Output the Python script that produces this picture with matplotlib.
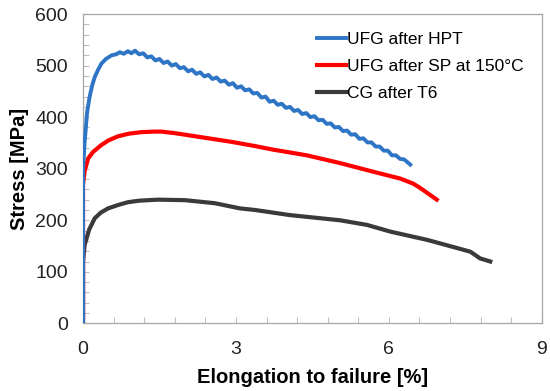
import matplotlib.pyplot as plt
import numpy as np
from matplotlib.ticker import MultipleLocator

plt.rcParams['font.family'] = ['Liberation Sans', 'DejaVu Sans']

# UFG after HPT (serrated curve)
hpt_x = [0.0, 0.0, 0.03, 0.08, 0.13, 0.18, 0.23, 0.3, 0.36, 0.45, 0.56, 0.65, 0.72, 0.8, 0.88, 0.95,
         1.02, 1.1, 1.18, 1.26, 1.34, 1.42, 1.5, 1.58, 1.66, 1.74, 1.82, 1.9, 1.98, 2.06, 2.14,
         2.22, 2.3, 2.38, 2.46, 2.54, 2.62, 2.7, 2.78, 2.86, 2.94, 3.02, 3.1, 3.18, 3.26, 3.34,
         3.42, 3.5, 3.58, 3.66, 3.74, 3.82, 3.9, 3.98, 4.06, 4.14, 4.22, 4.3, 4.38, 4.46, 4.54,
         4.62, 4.7, 4.78, 4.86, 4.94, 5.02, 5.1, 5.18, 5.26, 5.34, 5.42, 5.5, 5.58, 5.66, 5.74,
         5.82, 5.9, 5.98, 6.06, 6.14, 6.22, 6.3, 6.36, 6.42]
hpt_y = [0, 300, 350, 410, 440, 462, 478, 493, 504, 513, 520, 522, 526, 523, 528, 524,
         529, 522, 524, 516, 518, 510, 513, 505, 508, 500, 503, 495, 497, 489, 492,
         484, 487, 479, 482, 474, 477, 469, 471, 463, 466, 457, 460, 452, 454, 446,
         447, 438, 440, 430, 432, 424, 426, 418, 420, 412, 414, 406, 408, 400, 402,
         394, 395, 387, 388, 380, 381, 373, 374, 366, 367, 358, 359, 351, 351, 343,
         343, 335, 335, 326, 326, 319, 318, 313, 308]

# UFG after SP at 150 C
sp_x = [0.0, 0.0, 0.03, 0.1, 0.2, 0.36, 0.5, 0.69, 0.9, 1.15, 1.4, 1.54, 1.8, 2.0, 2.46,
        2.92, 3.37, 3.73, 4.39, 5.04, 5.7, 6.22, 6.48, 6.61, 6.94]
sp_y = [0, 270, 295, 320, 333, 346, 355, 363, 368, 371, 372, 372, 369, 366, 359,
        352, 344, 337, 326, 311, 294, 281, 271, 263, 240]

# CG after T6
t6_x = [0.0, 0.0, 0.03, 0.07, 0.12, 0.23, 0.35, 0.49, 0.7, 0.88, 1.1, 1.47, 2.0, 2.59,
        3.08, 3.37, 4.06, 5.04, 5.57, 6.03, 6.75, 7.6, 7.79, 7.99]
t6_y = [0, 120, 152, 165, 182, 204, 215, 223, 230, 235, 238, 240, 239, 233,
        223, 220, 210, 200, 191, 178, 162, 139, 126, 120]

labels = ['UFG after HPT', 'UFG after SP at 150°C', 'CG after T6']
colors = ['#2E75C6', '#FF0000', '#3A3A3A']

fig = plt.figure(figsize=(5.5, 3.91), dpi=100)
ax = fig.add_axes([0.151, 0.173, 0.834, 0.791])

ax.plot(t6_x, t6_y, color=colors[2], lw=3.0, label=labels[2], zorder=2)
ax.plot(sp_x, sp_y, color=colors[1], lw=3.0, label=labels[1], zorder=3)
ax.plot(hpt_x, hpt_y, color=colors[0], lw=2.8, label=labels[0], zorder=4)

ax.set_xlim(0, 9)
ax.set_ylim(0, 600)
ax.xaxis.set_major_locator(MultipleLocator(3))
ax.xaxis.set_minor_locator(MultipleLocator(0.6))
ax.yaxis.set_major_locator(MultipleLocator(100))
ax.yaxis.set_minor_locator(MultipleLocator(20))
ax.tick_params(which='both', direction='in', color='#BFBFBF', length=4, width=0.8,
               labelsize=14, labelcolor='#222222')
ax.tick_params(axis='x', which='both', pad=13)
ax.tick_params(axis='y', which='both', pad=11)
for s in ax.spines.values():
    s.set_color('#A6A6A6')
    s.set_linewidth(0.9)

ax.set_xlabel('Elongation to failure [%]', fontsize=14.5, fontweight='bold', labelpad=7)
ax.set_ylabel('Stress [MPa]', fontsize=14.5, fontweight='bold', labelpad=4)

h, l = ax.get_legend_handles_labels()
order = [2, 1, 0]
ax.legend([h[i] for i in order], [l[i] for i in order], loc='upper left',
          bbox_to_anchor=(0.56, 0.94), bbox_transform=fig.transFigure,
          frameon=False, fontsize=12.5, handlelength=1.7, handletextpad=0.05,
          labelspacing=0.68, borderpad=0)

fig.savefig('out.png', dpi=100)
